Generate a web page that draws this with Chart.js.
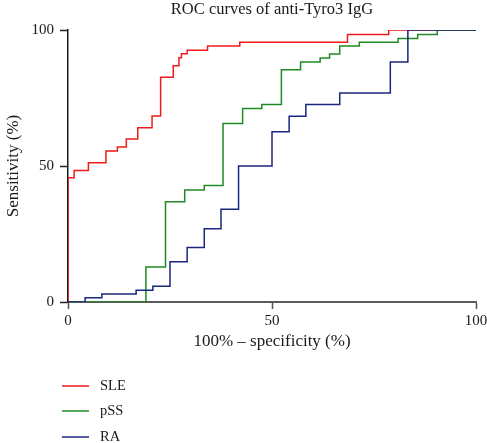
<!DOCTYPE html>
<html><head><meta charset="utf-8">
<script src="https://cdn.jsdelivr.net/npm/chart.js@4"></script>
<style>html,body{margin:0;padding:0;background:#fff}canvas{display:block}</style>
</head><body>
<canvas id="c" width="487" height="443"></canvas>
<script>
// ---- data ----
const seriesNames = ['SLE', 'pSS', 'RA'];
const seriesColors = ['#f01a1a', '#1f8a24', '#18267e'];

// x = 100% - specificity (%), y = sensitivity (%)
const sleX = [0, 0, 1.5, 5, 9.3, 12.1, 14.3, 17.1, 20.6, 22.7, 25.8, 27.2, 27.8, 29.2, 34.2, 42.1, 68.5, 78.6, 100];
const sleY = [0, 45.7, 48.3, 51.2, 55.5, 57.0, 59.9, 64.1, 68.4, 82.6, 86.9, 89.8, 91.3, 92.6, 94.1, 95.5, 98.3, 100, 100];

const pssX = [0, 19.1, 23.9, 28.6, 33.4, 38.0, 42.8, 47.5, 52.3, 57.0, 61.8, 64.1, 66.6, 71.4, 80.9, 85.7, 90.5, 100];
const pssY = [0, 12.9, 36.9, 41.2, 42.8, 65.6, 71.1, 72.6, 85.4, 88.2, 89.7, 91.2, 94.1, 95.5, 96.9, 98.3, 100, 100];

const raX = [0, 4.2, 8.3, 16.7, 20.8, 25.0, 29.2, 33.4, 37.5, 41.8, 50.0, 54.2, 58.3, 66.6, 79.0, 83.3, 100];
const raY = [0, 1.6, 2.9, 4.3, 5.8, 14.8, 20.0, 26.9, 34.1, 50.0, 62.6, 68.3, 72.6, 76.8, 88.2, 100, 100];

const axisTicks = [0, 50, 100];
const chartTitle = 'ROC curves of anti-Tyro3 IgG';
const xTitle = '100% \u2013 specificity (%)';
const yTitle = 'Sensitivity (%)';

const FONT = "'Liberation Serif', 'Times New Roman', serif";
const pts = (xs, ys) => xs.map((x, i) => ({x: x, y: ys[i]}));
const seriesX = [sleX, pssX, raX];
const seriesY = [sleY, pssY, raY];

const datasets = seriesNames.map((name, i) => ({
  label: name,
  data: pts(seriesX[i], seriesY[i]),
  borderColor: seriesColors[i],
  backgroundColor: seriesColors[i],
  borderWidth: 1.5,
  pointRadius: 0,
  fill: false,
  stepped: 'before',
  order: 3 - i
}));

const verticalLegend = {
  id: 'verticalLegend',
  afterDraw(chart) {
    const ctx = chart.ctx;
    const ys = [386, 411, 437];
    ctx.save();
    chart.data.datasets.forEach((ds, i) => {
      ctx.strokeStyle = ds.borderColor;
      ctx.lineWidth = 1.5;
      ctx.beginPath();
      ctx.moveTo(62, ys[i]);
      ctx.lineTo(89, ys[i]);
      ctx.stroke();
      ctx.fillStyle = '#1a1a1a';
      ctx.font = '14.5px ' + FONT;
      ctx.textBaseline = 'middle';
      ctx.textAlign = 'left';
      ctx.fillText(ds.label, 100, ys[i] + 0.5);
    });
    ctx.restore();
  }
};

new Chart(document.getElementById('c'), {
  type: 'line',
  data: { datasets: datasets },
  options: {
    responsive: false,
    animation: false,
    events: [],
    layout: { padding: { left: 0, right: 11, top: 0, bottom: 81 } },
    plugins: {
      legend: { display: false },
      tooltip: { enabled: false },
      title: {
        display: true,
        text: chartTitle,
        fullSize: false,
        color: '#1a1a1a',
        font: { family: FONT, size: 16.5, weight: 'normal', lineHeight: 1.0 },
        padding: { top: 1.5, bottom: 12 }
      }
    },
    scales: {
      x: {
        type: 'linear',
        min: 0, max: 100,
        afterBuildTicks(s) { s.ticks = axisTicks.map(v => ({value: v})); },
        afterFit(s) { s.height = 60; s.paddingRight = 0; s.paddingLeft = 0; },
        ticks: { font: { family: FONT, size: 15 }, color: '#1a1a1a', padding: 3, maxRotation: 0 },
        grid: { drawOnChartArea: false, drawTicks: true, tickLength: 7, tickColor: '#555', tickWidth: 1.5 },
        border: { display: true, color: '#5a5a5a', width: 2 },
        title: { display: true, text: xTitle, color: '#1a1a1a', font: { family: FONT, size: 17 }, padding: { top: 0, bottom: 10.5 } }
      },
      y: {
        type: 'linear',
        min: 0, max: 100,
        afterBuildTicks(s) { s.ticks = axisTicks.map(v => ({value: v})); },
        afterFit(s) { s.width = 68; },
        ticks: { font: { family: FONT, size: 15 }, color: '#1a1a1a', padding: 6 },
        grid: { drawOnChartArea: false, drawTicks: true, tickLength: 8, tickColor: '#222', tickWidth: 1.5 },
        border: { display: true, color: '#1a1a1a', width: 1.5 },
        title: { display: true, text: yTitle, color: '#1a1a1a', font: { family: FONT, size: 17 }, padding: { top: 3.5, bottom: 0 } }
      }
    }
  },
  plugins: [verticalLegend]
});
</script>
</body></html>
